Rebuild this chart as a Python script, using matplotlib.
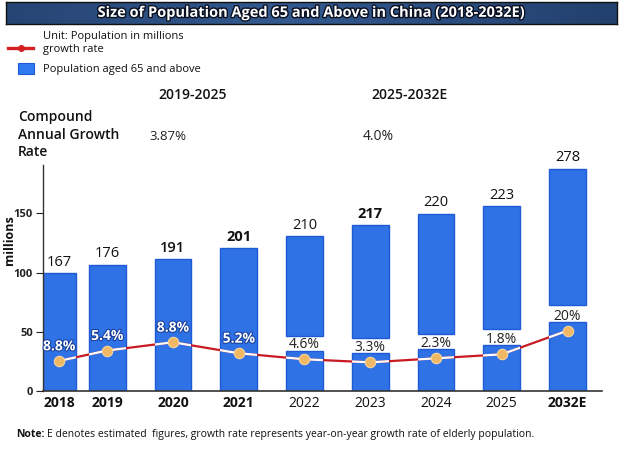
import matplotlib
matplotlib.use("Agg")
import matplotlib.pyplot as plt
import matplotlib.patheffects as pe
from matplotlib.lines import Line2D
from matplotlib.patches import Rectangle
import numpy as np

plt.rcParams['font.family'] = ['Open Sans', 'DejaVu Sans']

# ---------------- data ----------------
years = ['2018', '2019', '2020', '2021', '2022', '2023', '2024', '2025', '2032E']
value_labels = ['167', '176', '191', '201', '210', '217', '220', '223', '278']
bar_tops = [99.5, 106.5, 111.6, 120.7, 130.5, 140.4, 149.7, 156.0, 187.9]   # drawn heights
gap_low = [None, None, None, None, 33.4, 31.7, 35.0, 38.7, 58.5]
gap_high = [None, None, None, None, 46.4, 44.4, 48.0, 52.0, 72.6]
growth_labels = ['8.8%', '5.4%', '8.8%', '5.2%', '4.6%', '3.3%', '2.3%', '1.8%', '20%']
growth_points = [25.2, 34.0, 41.0, 31.7, 26.6, 24.0, 27.4, 30.8, 50.8]
value_weights = ['normal', 'normal', 'semibold', 'bold', 'normal', 'bold', 'normal', 'normal', 'normal']
year_weights = ['bold', 'bold', 'bold', 'bold', 'normal', 'normal', 'normal', 'normal', 'bold']
cagr_periods = ['2019-2025', '2025-2032E']
cagr_values = ['3.87%', '4.0%']

# ---------------- layout ----------------
W, H = 621, 465
fig = plt.figure(figsize=(W / 100, H / 100), dpi=100)
fig.patch.set_facecolor('white')

def fx(px):
    return px / W

def fy(py):
    return 1 - py / H

xpos = [0.27, 1, 2, 3, 4, 5, 6, 7, 8]
widths = [0.50, 0.56, 0.56, 0.56, 0.56, 0.56, 0.56, 0.56, 0.56]

ax = fig.add_axes([fx(42.7), fy(390.7), fx(601.7) - fx(42.7), fy(165) - fy(390.7)])
ax.set_xlim(0.02, 8.52)
ax.set_ylim(0, 191)

bar_color = '#2F72E6'
edge_color = '#1F5AD6'
segments = []
for i in range(len(years)):
    if gap_low[i] is None:
        parts = [(0, bar_tops[i])]
    else:
        parts = [(0, gap_low[i]), (gap_high[i], bar_tops[i])]
    for b0, b1 in parts:
        r = ax.bar(xpos[i], b1 - b0, bottom=b0, width=widths[i], color=bar_color,
                   edgecolor=edge_color, linewidth=1.0, zorder=2)
        segments.append(r.patches[0])

# growth line: red outside bars, white inside bars
ax.plot(xpos, growth_points, color='#C81A22', lw=1.6, zorder=3)
for p in segments:
    ln, = ax.plot(xpos, growth_points, color='white', lw=1.6, zorder=3.5)
    ln.set_clip_path(p)
ax.plot(xpos, growth_points, ls='none', marker='o', ms=7.5, mfc='#F0B862',
        mec='#F7D59E', mew=0.8, zorder=4)

# value labels
for i in range(len(years)):
    ax.annotate(value_labels[i], (xpos[i], bar_tops[i]), xytext=(0, 8),
                textcoords='offset points', ha='center', va='center',
                fontsize=10.5, color='#111111', fontweight=value_weights[i], zorder=5)

# growth labels
for i in range(len(years)):
    if i < 4:
        ax.annotate(growth_labels[i], (xpos[i], growth_points[i]), xytext=(0, 10.5),
                    textcoords='offset points', ha='center', va='center',
                    fontsize=10, color='white', fontweight='bold', zorder=5,
                    path_effects=[pe.withStroke(linewidth=1.5, foreground='#1A3F9A')])
    else:
        ax.annotate(growth_labels[i], (xpos[i], growth_points[i]), xytext=(0, 10.5),
                    textcoords='offset points', ha='center', va='center',
                    fontsize=10, color='#222222', zorder=5)

# axes styling
for s in ['top', 'right']:
    ax.spines[s].set_visible(False)
ax.spines['left'].set_color('#333333')
ax.spines['bottom'].set_color('#333333')
ax.spines['left'].set_linewidth(1.0)
ax.spines['bottom'].set_linewidth(1.2)
ax.set_yticks([0, 50, 100, 150])
ax.set_yticklabels(['0', '50', '100', '150'], fontsize=8, fontweight='bold')
ax.tick_params(axis='y', length=5, width=0.8, pad=2, colors='#222222')
ax.set_xticks(xpos)
ax.set_xticklabels(years, fontsize=10)
for t, w in zip(ax.get_xticklabels(), year_weights):
    t.set_fontweight(w)
ax.tick_params(axis='x', length=0, pad=4, colors='#111111')

fig.text(fx(10), fy(240), 'millions', rotation=90, ha='center', va='center',
         fontsize=9, fontweight='bold', color='#111111')

# ---------------- title band ----------------
tax = fig.add_axes([fx(6), fy(24), fx(617) - fx(6), fy(1.7) - fy(24)])
grad = np.linspace(0, 1, 256)
shade = 1 - np.abs(grad - 0.45) * 1.2
c_dark = np.array([0.10, 0.20, 0.36])
c_light = np.array([0.20, 0.35, 0.56])
img = c_dark[None, :] + (c_light - c_dark)[None, :] * np.clip(shade, 0, 1)[:, None]
tax.imshow(img[None, :, :], aspect='auto', extent=[0, 1, 0, 1])
tax.set_xticks([])
tax.set_yticks([])
for s in tax.spines.values():
    s.set_color('#111111')
    s.set_linewidth(1)
tax.text(0.5, 0.5, 'Size of Population Aged 65 and Above in China (2018-2032E)',
         ha='center', va='center', color='white', fontsize=10.5, fontweight='bold',
         transform=tax.transAxes,
         path_effects=[pe.withStroke(linewidth=2, foreground='#0A1020')])

# ---------------- legend ----------------
fig.add_artist(Line2D([fx(8), fx(33)], [fy(47.7), fy(47.7)], color='#D42020', lw=2.4))
fig.add_artist(Line2D([fx(21)], [fy(47.7)], marker='o', ms=4, color='#D42020'))
fig.text(fx(42.7), fy(37), 'Unit: Population in millions', fontsize=8, va='center',
         color='#111111')
fig.text(fx(42.7), fy(49.5), 'growth rate', fontsize=8, va='center', color='#111111')
fig.add_artist(Rectangle((fx(18), fy(74)), fx(34) - fx(18), fy(63) - fy(74),
                         facecolor='#2F7AF0', edgecolor='#1F5AD6', lw=0.8,
                         transform=fig.transFigure))
fig.text(fx(42.7), fy(69), 'Population aged 65 and above', fontsize=8, va='center',
         color='#111111')

# ---------------- CAGR block ----------------
fig.text(fx(193), fy(95), cagr_periods[0], fontsize=10, fontweight='semibold',
         ha='center', va='center', color='#111111')
fig.text(fx(410), fy(95), cagr_periods[1], fontsize=10, fontweight='semibold',
         ha='center', va='center', color='#111111')
fig.text(fx(18), fy(117), 'Compound', fontsize=10, fontweight='semibold',
         va='center', color='#111111')
fig.text(fx(18), fy(135), 'Annual Growth', fontsize=10, fontweight='semibold',
         va='center', color='#111111')
fig.text(fx(18), fy(152), 'Rate', fontsize=10, fontweight='semibold',
         va='center', color='#111111')
fig.text(fx(168), fy(136), cagr_values[0], fontsize=9.5, ha='center', va='center',
         color='#222222')
fig.text(fx(378), fy(136), cagr_values[1], fontsize=10, ha='center', va='center',
         color='#222222')

# ---------------- note ----------------
note = fig.text(fx(16), fy(434), 'Note:', fontsize=7.5, fontweight='bold', va='center',
                color='#111111')
fig.canvas.draw()
bb = note.get_window_extent()
fig.text(bb.x1 / W + fx(3), fy(434),
         'E denotes estimated  figures, growth rate represents year-on-year growth rate of elderly population.',
         fontsize=7.5, va='center', color='#111111')

fig.savefig('out.png', dpi=100, facecolor='white')
